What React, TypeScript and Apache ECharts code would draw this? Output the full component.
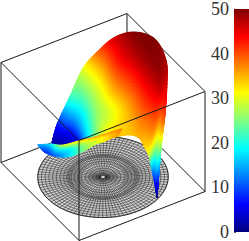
import React, { useEffect, useRef } from "react";
import * as echarts from "echarts";

// Colour scale
const colorTicks = [0, 10, 20, 30, 40, 50];
const colorMax = [50];

// Main sheet: one list per meridian, outer rim to inner rim (x, y in box units, z in data units)
const sheetX = [
  [-0.92, -0.92, -0.92, -0.92, -0.92],
  [-1.039, -0.97, -0.901, -0.833, -0.764],
  [-0.996, -0.885, -0.811, -0.701, -0.59],
  [-0.92, -0.802, -0.61, -0.308, 0.069],
  [-1.048, -0.782, -0.478, -0.064, 0.462],
  [-0.922, -0.68, -0.364, -0.011, 0.6],
  [-0.8, -0.482, -0.201, 0.081, 0.621],
  [-0.601, -0.282, -0.001, 0.281, 0.674],
  [-0.328, 0.026, 0.307, 0.55, 0.831],
  [0.065, 0.396, 0.617, 0.801, 0.985],
  [0.423, 0.616, 0.773, 0.93, 1.013],
  [0.814, 0.86, 0.833, 0.804, 0.776],
  [0.878, 0.854, 0.866, 0.804, 0.743],
  [0.775, 0.775, 0.775, 0.775, 0.775],
];
const sheetY = [
  [-0.24, -0.24, -0.24, -0.24, -0.24],
  [-0.103, -0.106, -0.109, -0.111, -0.114],
  [-0.034, -0.031, -0.006, -0.003, 0],
  [0.046, 0.06, 0.029, -0.071, -0.217],
  [0.331, 0.246, 0.137, -0.04, -0.286],
  [0.491, 0.397, 0.257, 0.094, -0.229],
  [0.686, 0.509, 0.354, 0.2, -0.114],
  [0.88, 0.663, 0.469, 0.274, 0.011],
  [1.029, 0.746, 0.509, 0.294, 0.057],
  [0.96, 0.671, 0.451, 0.254, 0.057],
  [0.754, 0.563, 0.394, 0.226, 0.103],
  [0.48, 0.4, 0.366, 0.331, 0.297],
  [0.377, 0.369, 0.337, 0.351, 0.366],
  [0.377, 0.377, 0.377, 0.377, 0.377],
];
const sheetZ = [
  [2, 2, 2, 2, 2],
  [6, 5, 4, 3, 2],
  [13, 11, 8, 6, 4],
  [22, 18, 16, 17, 20],
  [30, 27, 25, 26, 30],
  [39, 34, 31, 29, 34],
  [46, 42, 37, 32, 34],
  [50, 47, 41, 36, 34],
  [50, 49, 44, 39, 35],
  [48, 48, 43, 38, 33],
  [46, 43, 39, 35, 29],
  [41, 36, 29, 22, 15],
  [27, 22, 18, 12, 6],
  [0, 0, 0, 0, 0],
];

// Front fold of the surface: top edge, middle, lower edge per column
const foldX = [
  [-0.504, -0.504, -0.504],
  [-0.325, -0.476, -0.553],
  [0.23, -0.175, -0.333],
  [0.416, -0.001, -0.037],
  [0.533, 0.291, 0.274],
  [0.59, 0.462, 0.444],
  [0.653, 0.657, 0.68],
];
const foldY = [
  [-0.72, -0.72, -0.72],
  [-0.64, -0.594, -0.594],
  [-0.777, -0.606, -0.571],
  [-0.623, -0.491, -0.549],
  [-0.457, -0.434, -0.503],
  [-0.286, -0.286, -0.354],
  [-0.103, -0.137, -0.183],
];
const foldZ = [
  [15, 15, 15],
  [18, 12, 9],
  [30, 17, 11],
  [34, 20, 16],
  [36, 27, 24],
  [37, 32, 30],
  [38, 37, 36],
];

// Disc mesh at z = 0
const discRings = [0.88, 0.83, 0.78, 0.73, 0.68, 0.63, 0.58, 0.53, 0.49, 0.47, 0.45, 0.43, 0.39, 0.34, 0.29, 0.24, 0.19, 0.14, 0.09, 0.05];
// [sector count, outer radius, inner radius]
const discSpokes = [
  [96, 0.88, 0.3],
  [48, 0.3, 0.03],
];

// Box corners
const boxBack = [
  [[-1, -1, 0], [-1, 1, 0]],
  [[-1, 1, 0], [1, 1, 0]],
  [[-1, 1, 0], [-1, 1, 50]],
  [[-1, -1, 50], [-1, 1, 50]],
  [[-1, 1, 50], [1, 1, 50]],
];
const boxFront = [
  [[-1, -1, 0], [1, -1, 0]],
  [[1, -1, 0], [1, 1, 0]],
  [[-1, -1, 0], [-1, -1, 50]],
  [[1, 1, 0], [1, 1, 50]],
  [[-1, -1, 50], [1, -1, 50]],
  [[1, -1, 50], [1, 1, 50]],
  [[1, -1, 0], [1, -1, 50]],
];

type P3 = number[];

const project = (p: P3) => [103 + 39 * p[0] + 63 * p[1], 177 + 39 * p[0] - 24.5 * p[1] - 2 * p[2]];

const jet = (z: number) => {
  const t = Math.max(0, Math.min(1, z / 50));
  const ch = (c: number) => Math.round(255 * Math.max(0, Math.min(1, 1.5 - Math.abs(4 * t - c))));
  return `rgb(${ch(3)},${ch(2)},${ch(1)})`;
};

const cr = (a: number, b: number, c: number, d: number, t: number) =>
  0.5 * (2 * b + (c - a) * t + (2 * a - 5 * b + 4 * c - d) * t * t + (3 * b - a - 3 * c + d) * t * t * t);

function sampler(A: number[][]) {
  const n = A.length;
  const m = A[0].length;
  const at = (i: number, j: number) => A[Math.max(0, Math.min(n - 1, i))][Math.max(0, Math.min(m - 1, j))];
  return (u: number, v: number) => {
    const i = Math.min(Math.floor(u), n - 2);
    const s = u - i;
    const j = Math.min(Math.floor(v), m - 2);
    const t = v - j;
    const col = (k: number) => cr(at(k, j - 1), at(k, j), at(k, j + 1), at(k, j + 2), t);
    return cr(col(i - 1), col(i), col(i + 1), col(i + 2), s);
  };
}

function buildCells(X: number[][], Y: number[][], Z: number[][], subU: number, subV: number) {
  const sx = sampler(X);
  const sy = sampler(Y);
  const sz = sampler(Z);
  const nu = (X.length - 1) * subU;
  const nv = (X[0].length - 1) * subV;
  const pt = (a: number, b: number): P3 => {
    const u = a / subU;
    const v = b / subV;
    return [sx(u, v), sy(u, v), sz(u, v)];
  };
  const cells: { pts: P3[]; z: number }[] = [];
  for (let a = 0; a < nu; a++) {
    for (let b = 0; b < nv; b++) {
      const pts = [pt(a, b), pt(a + 1, b), pt(a + 1, b + 1), pt(a, b + 1)];
      cells.push({ pts, z: (pts[0][2] + pts[1][2] + pts[2][2] + pts[3][2]) / 4 });
    }
  }
  return cells;
}

function cellSeries(cells: { pts: P3[]; z: number }[], z: number) {
  return {
    type: "custom",
    coordinateSystem: "cartesian2d",
    xAxisIndex: 0,
    yAxisIndex: 0,
    z,
    silent: true,
    progressive: 0,
    clip: false,
    data: cells.map((c, i) => [i, c.z]),
    renderItem: (params: any, api: any) => {
      const c = cells[params.dataIndex];
      const color = jet(c.z);
      return {
        type: "polygon",
        shape: { points: c.pts.map((p) => api.coord(project(p))) },
        style: { fill: color, stroke: color, lineWidth: 1 },
      };
    },
  };
}

function lineSeries(lines: P3[][], z: number, color: string, width: number, fill?: string) {
  return {
    type: "custom",
    coordinateSystem: "cartesian2d",
    xAxisIndex: 0,
    yAxisIndex: 0,
    z,
    silent: true,
    progressive: 0,
    clip: false,
    data: lines.map((_, i) => [i, 0]),
    renderItem: (params: any, api: any) => ({
      type: fill ? "polygon" : "polyline",
      shape: { points: lines[params.dataIndex].map((p) => api.coord(project(p))) },
      style: { fill: fill || "none", stroke: color, lineWidth: width },
    }),
  };
}

function ringLine(r: number, steps: number): P3[] {
  const out: P3[] = [];
  for (let k = 0; k <= steps; k++) {
    const a = (k / steps) * Math.PI * 2;
    out.push([r * Math.cos(a), r * Math.sin(a), 0]);
  }
  return out;
}

export default function App() {
  const ref = useRef<HTMLDivElement>(null);
  useEffect(() => {
    document.body.style.margin = "0";
    const chart = echarts.init(ref.current!, undefined, { renderer: "svg" });
    const rings = discRings.map((r) => ringLine(r, 120));
    const spokes: P3[][] = [];
    discSpokes.forEach(([count, r1, r0]) => {
      for (let k = 0; k < count; k++) {
        const a = (k / count) * Math.PI * 2 + 0.03;
        spokes.push([
          [r1 * Math.cos(a), r1 * Math.sin(a), 0],
          [r0 * Math.cos(a), r0 * Math.sin(a), 0],
        ]);
      }
    });
    const gradient = new echarts.graphic.LinearGradient(0, 1, 0, 0, [
      { offset: 0, color: jet(0) },
      { offset: 0.125, color: jet(6.25) },
      { offset: 0.375, color: jet(18.75) },
      { offset: 0.625, color: jet(31.25) },
      { offset: 0.875, color: jet(43.75) },
      { offset: 1, color: jet(50) },
    ]);
    chart.setOption({
      animation: false,
      backgroundColor: "#ffffff",
      grid: [
        { left: 0, top: 0, width: 249, height: 241 },
        { left: 234, top: 5, width: 15, height: 227 },
      ],
      xAxis: [
        { type: "value", gridIndex: 0, min: 0, max: 249, show: false },
        { type: "category", gridIndex: 1, data: ["scale"], show: false },
      ],
      yAxis: [
        { type: "value", gridIndex: 0, min: 0, max: 241, inverse: true, show: false },
        {
          type: "value",
          gridIndex: 1,
          min: colorTicks[0],
          max: colorTicks[colorTicks.length - 1],
          interval: 10,
          position: "left",
          axisLine: { show: true, lineStyle: { color: "#8a8a8a", width: 1 } },
          axisTick: { show: true, inside: true, length: 2, lineStyle: { color: "#555555", width: 1 } },
          splitLine: { show: false },
          axisLabel: {
            margin: 5,
            fontFamily: "'Liberation Serif', 'Times New Roman', serif",
            fontSize: 18,
            color: "#333333",
          },
        },
      ],
      series: [
        lineSeries(boxBack, 1, "#1a1a1a", 1),
        lineSeries([ringLine(discRings[0], 120)], 2, "#1a1a1a", 0.8, "#d2d2d2"),
        lineSeries(rings, 3, "#222222", 0.55),
        lineSeries(spokes, 3, "#222222", 0.55),
        cellSeries(buildCells(sheetX, sheetY, sheetZ, 8, 8), 4),
        cellSeries(buildCells(foldX, foldY, foldZ, 8, 6), 5),
        lineSeries(boxFront, 6, "#1a1a1a", 1),
        {
          type: "bar",
          xAxisIndex: 1,
          yAxisIndex: 1,
          data: colorMax,
          barWidth: "100%",
          silent: true,
          itemStyle: { color: gradient },
        },
      ],
    });
    return () => chart.dispose();
  }, []);
  return <div ref={ref} style={{ width: 249, height: 241 }} />;
}
